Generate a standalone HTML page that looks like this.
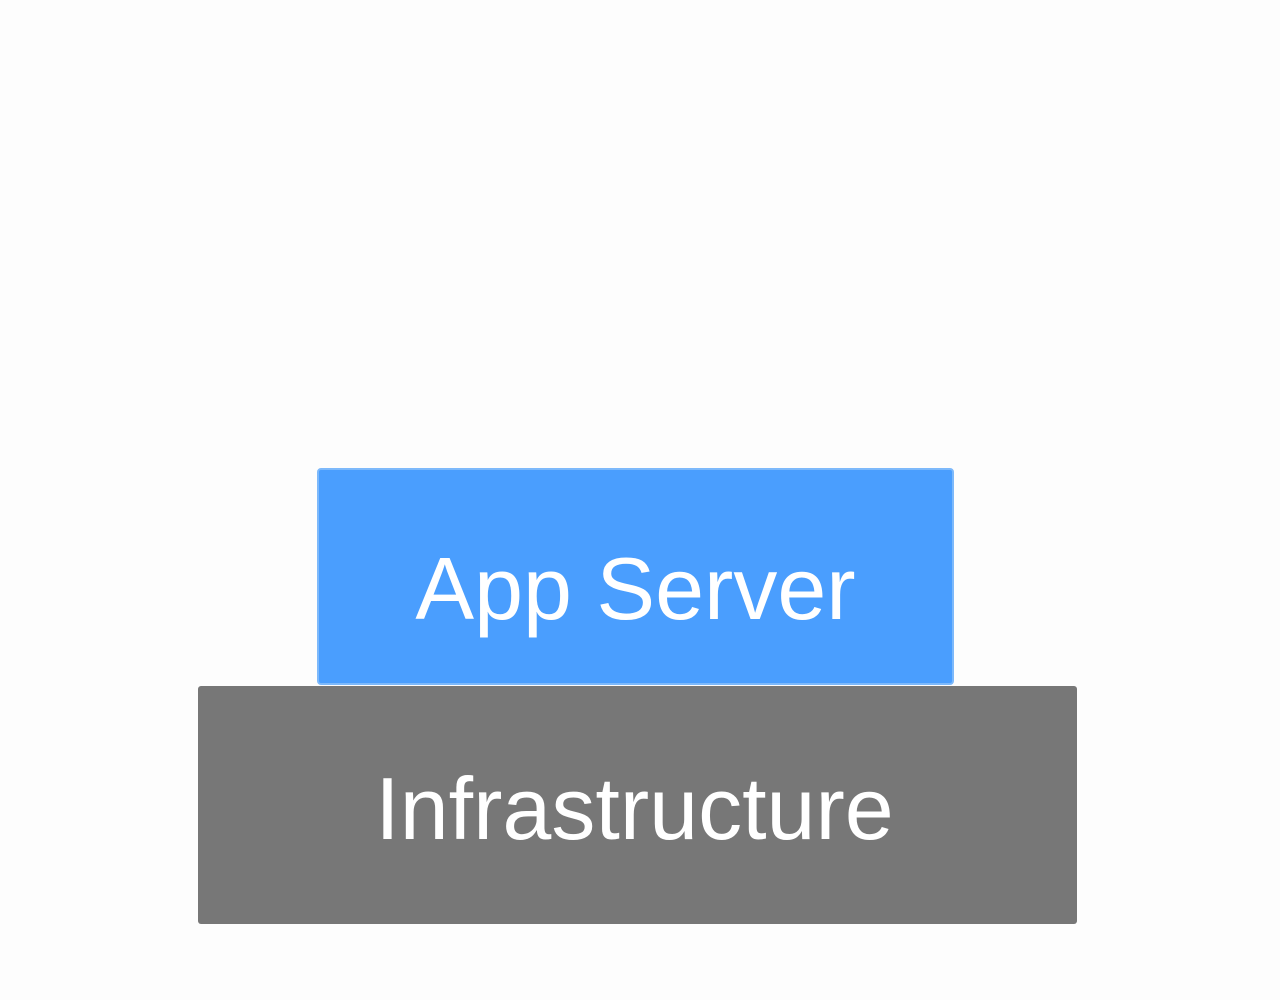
<!DOCTYPE html>
<html><head><meta charset="utf-8"><style>
html,body{margin:0;padding:0;background:#fdfdfd;width:1280px;height:1000px;overflow:hidden;font-family:"Liberation Sans",Arial,sans-serif;}
.b{position:absolute;box-sizing:border-box;color:#fff;font-size:88px;}
.t{position:absolute;left:0;right:0;text-align:center;line-height:1;}
</style></head><body>
<div class="b" style="left:317px;top:468px;width:637px;height:217px;background:#4a9efe;border:2px solid #7db9fb;border-radius:4px;">
<div class="t" style="top:75px;">App Server</div></div>
<div class="b" style="left:198px;top:686px;width:879px;height:238px;background:#777777;border-radius:3px;">
<div class="t" style="top:79px;left:-6px;">Infrastructure</div></div>
</body></html>
